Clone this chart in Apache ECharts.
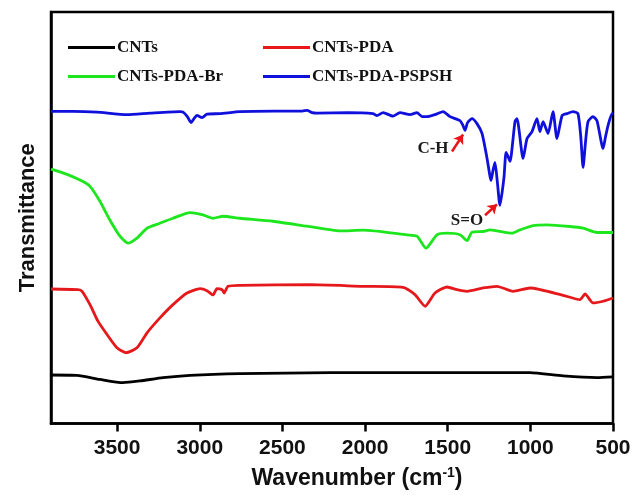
<!DOCTYPE html>
<html>
<head>
<meta charset="utf-8">
<script src="https://cdn.jsdelivr.net/npm/echarts@6/dist/echarts.min.js"></script>
<style>
  html, body { margin: 0; padding: 0; background: #fff; }
  #main { width: 637px; height: 495px; }
</style>
</head>
<body>
<div id="main"></div>
<script>
// FTIR spectra, wavenumber (cm-1) vs transmittance (a.u., curves offset)
var seriesNames = ['CNTs', 'CNTs-PDA', 'CNTs-PDA-Br', 'CNTs-PDA-PSPSH'];
var xTicks = [500, 1000, 1500, 2000, 2500, 3000, 3500];

var wnCNTs = [3900, 3743, 3604, 3465, 3362, 3222, 3059, 2757, 2212, 1500, 1002, 802, 597, 500];
var tCNTs  = [50.7, 50.3, 46.3, 43, 44.7, 48, 50.3, 52, 53, 53, 53, 49.7, 48, 48.7];

var wnPDA = [3900, 3737, 3712, 3664, 3616, 3561, 3501, 3446, 3380, 3319, 3241, 3162, 3077, 2998,
  2956, 2920, 2896, 2865, 2853, 2829, 2757, 2333, 2012, 1770, 1698, 1637, 1577, 1504, 1444, 1383,
  1286, 1202, 1105, 1002, 802, 700, 669, 621, 560, 500];
var tPDA = [137, 136.3, 134.7, 121.3, 104.7, 91.3, 78, 73, 78, 93, 108, 121.3, 133, 137.3,
  135.3, 131, 137.3, 136.3, 133, 139.7, 140.7, 141.3, 139.7, 138.7, 131.3, 119.7, 133, 139, 136.3, 134.7,
  138, 139.7, 134.7, 138, 130.7, 126.3, 132, 123, 124.7, 128];

var wnBr = [3900, 3803, 3712, 3664, 3604, 3543, 3483, 3434, 3380, 3319, 3241, 3162, 3059, 2980,
  2920, 2859, 2757, 2557, 2351, 2152, 2012, 1746, 1686, 1631, 1565, 1504, 1426, 1383, 1353, 1286,
  1244, 1111, 1063, 984, 899, 760, 681, 597, 500];
var tBr = [257.3, 252, 245.3, 240, 225, 206, 190, 183, 188, 198, 203, 208, 213.7, 211.3,
  208, 210, 208, 205, 200, 195.3, 196, 191.3, 190, 178, 191.3, 193, 191.5, 185.5, 194, 194.7,
  196.3, 193, 196.3, 200.7, 201.3, 199.7, 198, 193.7, 193.7];

var wnPSPSH = [3900, 3767, 3622, 3440, 3301, 3120, 3101, 3075, 3053, 3035, 3017, 2986, 2956, 2878,
  2757, 2550, 2380, 2351, 2320, 2291, 2100, 1952, 1928, 1891, 1831, 1789, 1728, 1686, 1655, 1625,
  1565, 1528, 1486, 1426, 1410, 1395, 1380, 1353, 1323, 1292, 1262, 1244, 1238, 1226, 1214, 1200,
  1184, 1170, 1159, 1147, 1135, 1123, 1093, 1081, 1044, 1020, 990, 960, 942, 923, 893, 863, 839,
  808, 778, 742, 712, 695, 681, 666, 651, 621, 597, 560, 545, 530, 506, 500];
var tPSPSH = [315.3, 315.3, 314.5, 312, 313.5, 315, 314.5, 310, 304, 308, 311.3, 309, 312.5, 313,
  315, 315.5, 315.5, 316.3, 314, 313.5, 314, 313, 311, 314, 310.5, 314, 312, 314, 310, 310,
  312.7, 315, 310, 306, 302, 296.3, 304, 308, 303, 293, 268, 250, 246, 256, 264, 245,
  221, 235, 250, 274, 270, 265, 305, 308, 268, 288, 295, 308, 295, 305, 293, 315, 288,
  311, 313, 315, 313, 290, 259, 285, 305, 310, 306, 278, 290, 301, 313, 313];

// peak annotations: label position, arrow start, arrow end (data coords)
var annoNames = ['C-H', 'S=O'];
var annoLabelAt = [[1589, 278], [1383, 206]];
var annoArrowFrom = [[1474, 275], [1274, 211]];
var annoArrowTo = [[1407, 292], [1202, 222]];

function zip(xs, ys) {
  return xs.map(function (x, i) { return [x, ys[i]]; });
}

var colors = ['#000000', '#e5191c', '#1ee61e', '#1010dc'];
var allData = [zip(wnCNTs, tCNTs), zip(wnPDA, tPDA), zip(wnBr, tBr), zip(wnPSPSH, tPSPSH)];

var series = seriesNames.map(function (name, i) {
  return {
    name: name,
    type: 'line',
    data: allData[i],
    showSymbol: false,
    smooth: 0.2,
    lineStyle: { color: colors[i], width: 2.8 },
    itemStyle: { color: colors[i] },
    z: 3
  };
});

series[3].markPoint = {
  silent: true,
  symbol: 'circle',
  symbolSize: 1,
  itemStyle: { color: 'rgba(0,0,0,0)' },
  label: {
    show: true,
    position: 'inside',
    formatter: function (p) { return p.name; },
    fontFamily: 'Liberation Serif',
    fontWeight: 'bold',
    fontSize: 17,
    color: '#1a1a1a'
  },
  data: annoNames.map(function (n, i) { return { name: n, coord: annoLabelAt[i] }; })
};
series[3].markLine = {
  silent: true,
  symbol: ['none', 'arrow'],
  symbolSize: 9,
  label: { show: false },
  lineStyle: { color: '#e8141a', width: 2.5, type: 'solid' },
  data: annoArrowFrom.map(function (a, i) {
    return [{ coord: a }, { coord: annoArrowTo[i] }];
  })
};

var legendText = {
  fontFamily: 'Liberation Serif',
  fontWeight: 'bold',
  fontSize: 17,
  color: '#111',
  padding: [0, 0, 0, -3]
};

var chart = echarts.init(document.getElementById('main'));
chart.setOption({
  animation: false,
  backgroundColor: '#fff',
  grid: {
    left: 51, right: 24, top: 12, bottom: 69,
    show: true, borderColor: '#000', borderWidth: 2.5
  },
  legend: [
    {
      data: [seriesNames[0], seriesNames[2]],
      orient: 'vertical', left: 63, top: 34,
      icon: 'rect', itemWidth: 47, itemHeight: 3, itemGap: 12,
      textStyle: legendText
    },
    {
      data: [seriesNames[1], seriesNames[3]],
      orient: 'vertical', left: 258, top: 34,
      icon: 'rect', itemWidth: 47, itemHeight: 3, itemGap: 12,
      textStyle: legendText
    }
  ],
  xAxis: {
    type: 'value',
    min: 500, max: 3900, inverse: true,
    interval: 500,
    name: 'Wavenumber (cm{sup|-1})',
    nameLocation: 'middle',
    nameGap: 43,
    nameTextStyle: {
      fontFamily: 'Liberation Sans', fontWeight: 'bold', fontSize: 23, color: '#111',
      padding: [0, 0, 0, 50],
      rich: {
        sup: { fontFamily: 'Liberation Sans', fontWeight: 'bold', fontSize: 14, color: '#111', verticalAlign: 'top', padding: [0, 0, 10, 0] }
      }
    },
    splitLine: { show: false },
    axisLine: { show: true, lineStyle: { color: '#000', width: 2.5 } },
    axisTick: { show: true, inside: false, length: 8, customValues: xTicks, lineStyle: { color: '#000', width: 2.5 } },
    axisLabel: {
      customValues: xTicks,
      formatter: function (v) { return String(v); },
      margin: 14,
      fontFamily: 'Liberation Sans', fontWeight: 'bold', fontSize: 21, color: '#111'
    }
  },
  yAxis: {
    type: 'value',
    min: 2, max: 415,
    name: 'Transmittance',
    nameLocation: 'middle',
    nameRotate: 90,
    nameGap: 12,
    nameTextStyle: { fontFamily: 'Liberation Sans', fontWeight: 'bold', fontSize: 22, color: '#111' },
    splitLine: { show: false },
    axisLine: { show: true, lineStyle: { color: '#000', width: 2.5 } },
    axisTick: { show: false },
    axisLabel: { show: false }
  },
  series: series
});
</script>
</body>
</html>
